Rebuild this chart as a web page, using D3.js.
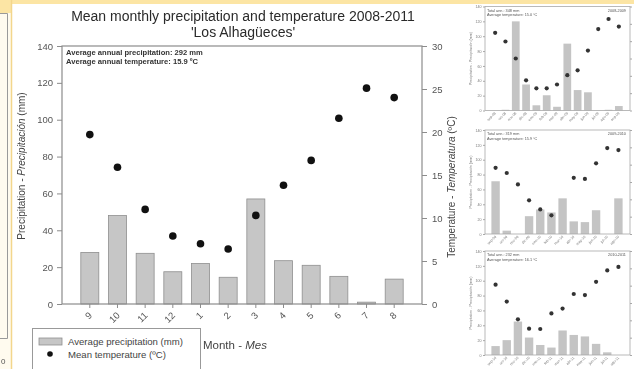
<!DOCTYPE html>
<html>
<head>
<meta charset="utf-8">
<script src="https://cdn.jsdelivr.net/npm/d3@7"></script>
<style>
  body { margin: 0; background: #fff; }
  svg { display: block; font-family: "Liberation Sans", Arial, sans-serif; filter: blur(0.35px); }
</style>
</head>
<body>
<svg id="chart" width="634" height="369"></svg>
<script>
/* main chart data */
const months = ["9", "10", "11", "12", "1", "2", "3", "4", "5", "6", "7", "8"];
const precip = [28, 48, 27.5, 17.5, 22, 14.5, 57, 23.5, 21, 15, 1, 13.5];
const temp = [19.7, 15.9, 11.0, 7.9, 7.0, 6.4, 10.3, 13.8, 16.7, 21.6, 25.1, 24.0];
const precipTicks = [0, 20, 40, 60, 80, 100, 120, 140];
const tempTicks = [0, 5, 10, 15, 20, 25, 30];

/* small yearly panels */
const months0809 = ["sep-08", "oct-08", "nov-08", "dic-08", "ene-09", "feb-09", "mar-09", "abr-09", "may-09", "jun-09", "jul-09", "ago-09", "sep-09"];
const precip0809 = [0, 1, 120, 35, 7, 20.5, 5, 90, 27.5, 24.5, 0, 1, 6];
const temp0809 = [22.4, 19.9, 15.0, 8.7, 6.4, 6.4, 7.5, 10.2, 11.6, 17.3, 23.5, 26.4, 24.2];
const months0910 = ["sep-09", "oct-09", "nov-09", "dic-09", "ene-10", "feb-10", "mar-10", "abr-10", "may-10", "jun-10", "jul-10", "ago-10"];
const precip0910 = [71, 4.5, 0, 24, 33, 29, 48, 17, 16, 32, 0, 48];
const temp0910 = [19.1, 17.6, 14.3, 9.7, 7.1, 5.4, null, 16.2, 15.9, 20.4, 24.8, 24.2];
const months1011 = ["sep-10", "oct-10", "nov-10", "dic-10", "ene-11", "feb-11", "mar-11", "abr-11", "may-11", "jun-11", "jul-11", "ago-11"];
const precip1011 = [12, 20, 45, 23.5, 13.5, 10, 33, 27, 25, 15, 3.6, 0];
const temp1011 = [20.3, 15.4, 10.3, 7.6, 7.5, 12.0, 13.4, 17.6, 17.3, 21.1, 24.4, 25.4];

const svg = d3.select("#chart");
const axisGrey = "#8c8c8c";
const barFill = "#c6c6c6";
const barStroke = "#8f8f8f";

/* page background bits around the chart */
svg.append("rect").attr("x", 0).attr("y", 0).attr("width", 11).attr("height", 369).attr("fill", "#fffbef");
svg.append("rect").attr("x", 0).attr("y", 0).attr("width", 634).attr("height", 4).attr("fill", "#fce5a4");
svg.append("rect").attr("x", 0).attr("y", 0).attr("width", 11).attr("height", 13).attr("fill", "#fce5a4");
svg.append("line").attr("x1", 11.5).attr("x2", 11.5).attr("y1", 0).attr("y2", 369)
    .attr("stroke", "#f3d68c").attr("stroke-width", 1.5);
svg.append("path").attr("d", "M0,13.5H7.5V338.5H0").attr("fill", "none").attr("stroke", "#9a9a9a");
svg.append("text").attr("x", 1).attr("y", 364).attr("font-size", 8).attr("fill", "#555").text("0");

/* ---- main chart ---- */
const plot = {left: 62, right: 422, top: 46, bottom: 304};

const x = d3.scaleBand().domain(months)
    .range([plot.left, plot.right])
    .paddingInner(0.35)
    .paddingOuter(0.68);
const y = d3.scaleLinear().domain([0, 140]).range([plot.bottom, plot.top]);
const yT = d3.scaleLinear().domain([0, 30]).range([plot.bottom, plot.top]);

svg.append("text")
    .attr("x", 243).attr("y", 21)
    .attr("text-anchor", "middle").attr("font-size", 14).attr("fill", "#2a2a2a")
    .text("Mean monthly precipitation and temperature 2008-2011");
svg.append("text")
    .attr("x", 243).attr("y", 37)
    .attr("text-anchor", "middle").attr("font-size", 14).attr("fill", "#2a2a2a")
    .text("'Los Alhagüeces'");

svg.append("g").selectAll("rect").data(precip).join("rect")
    .attr("x", (d, i) => x(months[i]))
    .attr("y", d => y(d))
    .attr("width", x.bandwidth())
    .attr("height", d => y(0) - y(d))
    .attr("fill", barFill)
    .attr("stroke", barStroke)
    .attr("stroke-width", 0.8);

svg.append("g").selectAll("circle").data(temp).join("circle")
    .attr("cx", (d, i) => x(months[i]) + x.bandwidth() / 2)
    .attr("cy", d => yT(d))
    .attr("r", 3.8)
    .attr("fill", "#111");

// frame
svg.append("rect")
    .attr("x", plot.left).attr("y", plot.top)
    .attr("width", plot.right - plot.left).attr("height", plot.bottom - plot.top)
    .attr("fill", "none").attr("stroke", axisGrey).attr("stroke-width", 1.2);

const yAxis = d3.axisLeft(y).tickValues(precipTicks).tickSize(5).tickPadding(4);
const gy = svg.append("g").attr("transform", "translate(" + plot.left + ",0)").call(yAxis);
const yTAxis = d3.axisRight(yT).tickValues(tempTicks).tickSize(5).tickPadding(5);
const gyT = svg.append("g").attr("transform", "translate(" + plot.right + ",0)").call(yTAxis);
const xAxis = d3.axisBottom(x).tickSize(4).tickFormat(() => "");
const gx = svg.append("g").attr("transform", "translate(0," + plot.bottom + ")").call(xAxis);

[gy, gyT, gx].forEach(g => {
    g.select(".domain").remove();
    g.selectAll(".tick line").attr("stroke", axisGrey);
    g.selectAll(".tick text").attr("font-size", 9.5).attr("fill", "#555").attr("font-family", null);
});

// rotated month labels
svg.append("g").selectAll("text").data(months).join("text")
    .attr("transform", d => "translate(" + (x(d) + x.bandwidth() / 2 + 3) + "," + (plot.bottom + 12) + ") rotate(-45)")
    .attr("text-anchor", "end")
    .attr("font-size", 9.5).attr("fill", "#555")
    .text(d => d);

// inset text
svg.append("text").attr("x", 66).attr("y", 55).attr("font-size", 7.6).attr("font-weight", "bold").attr("fill", "#333")
    .text("Average annual precipitation: 292 mm");
svg.append("text").attr("x", 66).attr("y", 64).attr("font-size", 7.6).attr("font-weight", "bold").attr("fill", "#333")
    .text("Average annual temperature: 15.9 ºC");

// axis titles
const yTitle = svg.append("text")
    .attr("transform", "translate(25,166) rotate(-90)")
    .attr("text-anchor", "middle").attr("font-size", 10).attr("fill", "#444");
yTitle.append("tspan").text("Precipitation - ");
yTitle.append("tspan").attr("font-style", "italic").text("Precipitación");
yTitle.append("tspan").text(" (mm)");

const tTitle = svg.append("text")
    .attr("transform", "translate(455,187) rotate(-90)")
    .attr("text-anchor", "middle").attr("font-size", 10).attr("fill", "#444");
tTitle.append("tspan").text("Temperature - ");
tTitle.append("tspan").attr("font-style", "italic").text("Temperatura");
tTitle.append("tspan").text(" (ºC)");

const xTitle = svg.append("text").attr("x", 203).attr("y", 349).attr("font-size", 11.5).attr("fill", "#444");
xTitle.append("tspan").text("Month - ");
xTitle.append("tspan").attr("font-style", "italic").text("Mes");

// legend
const lg = svg.append("g").attr("transform", "translate(32,328)");
lg.append("rect").attr("x", 0.5).attr("y", 0.5).attr("width", 168).attr("height", 44)
    .attr("fill", "#fff").attr("stroke", "#999");
lg.append("rect").attr("x", 7).attr("y", 10).attr("width", 23).attr("height", 7)
    .attr("fill", barFill).attr("stroke", barStroke).attr("stroke-width", 0.8);
lg.append("text").attr("x", 36).attr("y", 17).attr("font-size", 9.6).attr("fill", "#444")
    .text("Average precipitation (mm)");
lg.append("circle").attr("cx", 18).attr("cy", 26).attr("r", 2.8).attr("fill", "#111");
lg.append("text").attr("x", 36).attr("y", 30).attr("font-size", 9.6).attr("fill", "#444")
    .text("Mean temperature (ºC)");

/* ---- small panels ---- */
function drawPanel(top, cats, pr, tp, period, total, avgT) {
    const p = {left: 485, right: 630, top: top, bottom: top + 104};
    const sx = d3.scaleBand().domain(cats).range([490, 624]).paddingInner(0.25).paddingOuter(0.125);
    const sy = d3.scaleLinear().domain([0, 140]).range([p.bottom, p.top]);
    const sT = d3.scaleLinear().domain([0, 30]).range([p.bottom, p.top]);
    const g = svg.append("g");

    g.selectAll("rect.bar").data(pr).join("rect")
        .attr("class", "bar")
        .attr("x", (d, i) => sx(cats[i]))
        .attr("y", d => sy(d))
        .attr("width", sx.bandwidth())
        .attr("height", d => sy(0) - sy(d))
        .attr("fill", "#c4c4c4");

    g.selectAll("circle").data(tp.map((d, i) => [cats[i], d]).filter(d => d[1] != null)).join("circle")
        .attr("cx", d => sx(d[0]) + sx.bandwidth() / 2)
        .attr("cy", d => sT(d[1]))
        .attr("r", 2.1)
        .attr("fill", "#333");

    g.append("rect")
        .attr("x", p.left).attr("y", p.top)
        .attr("width", p.right - p.left).attr("height", p.bottom - p.top)
        .attr("fill", "none").attr("stroke", "#a8a8a8").attr("stroke-width", 0.8);

    const ga = g.append("g").attr("transform", "translate(" + p.left + ",0)")
        .call(d3.axisLeft(sy).tickValues(precipTicks).tickSize(2).tickPadding(1.5));
    const gb = g.append("g").attr("transform", "translate(" + p.right + ",0)")
        .call(d3.axisRight(sT).tickValues(tempTicks).tickSize(2).tickFormat(() => ""));
    [ga, gb].forEach(a => {
        a.select(".domain").remove();
        a.selectAll(".tick line").attr("stroke", "#a8a8a8");
        a.selectAll(".tick text").attr("font-size", 3.6).attr("fill", "#777").attr("font-family", null);
    });

    g.selectAll("text.mo").data(cats).join("text")
        .attr("class", "mo")
        .attr("transform", d => "translate(" + (sx(d) + sx.bandwidth() / 2 + 1) + "," + (p.bottom + 3) + ") rotate(-45)")
        .attr("text-anchor", "end")
        .attr("font-size", 3.6).attr("fill", "#777")
        .text(d => d);

    g.append("text").attr("transform", "translate(472," + (top + 52) + ") rotate(-90)")
        .attr("text-anchor", "middle").attr("font-size", 3.6).attr("fill", "#777")
        .text("Precipitation - Precipitación (mm)");

    g.append("text").attr("x", 487).attr("y", top + 5).attr("font-size", 3.8).attr("fill", "#555")
        .text("Total ann.: " + total + " mm");
    g.append("text").attr("x", 487).attr("y", top + 9.5).attr("font-size", 3.8).attr("fill", "#555")
        .text("Average temperature: " + avgT + " ºC");
    g.append("text").attr("x", 626).attr("y", top + 5).attr("text-anchor", "end")
        .attr("font-size", 3.8).attr("fill", "#555")
        .text(period);
}

drawPanel(6.5, months0809, precip0809, temp0809, "2008-2009", 348, "15.0");
drawPanel(130, months0910, precip0910, temp0910, "2009-2010", 319, "15.9");
drawPanel(251, months1011, precip1011, temp1011, "2010-2011", 232, "16.1");
</script>
</body>
</html>
